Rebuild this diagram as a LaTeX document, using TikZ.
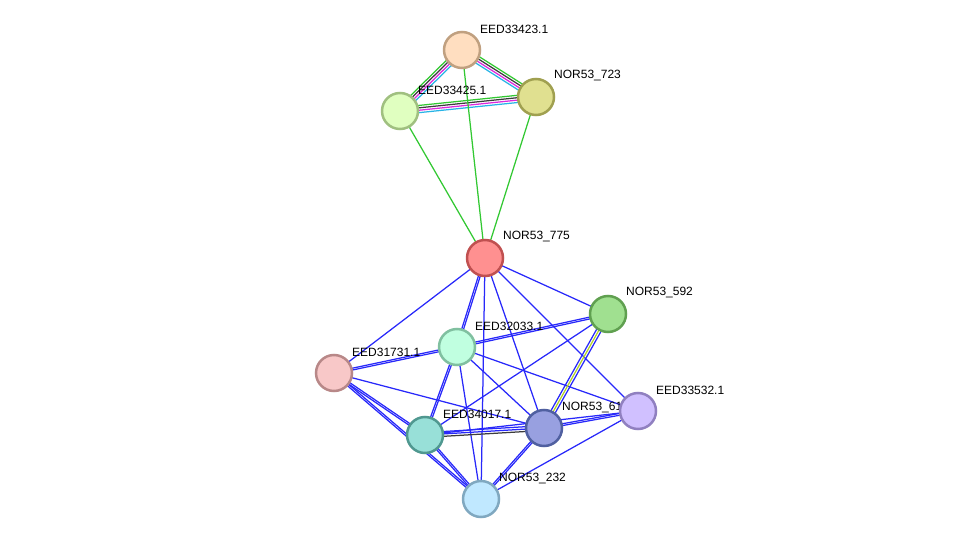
\documentclass[tikz,border=0pt]{standalone}
\usepackage{fontspec}
\setmainfont{Liberation Sans}
\usetikzlibrary{calc}
\pgfdeclarelayer{edges}
\pgfdeclarelayer{labels}
\pgfsetlayers{edges,labels,main}
\definecolor{eblue}{RGB}{40,40,250}
\definecolor{egreen}{RGB}{50,200,50}
\definecolor{emag}{RGB}{220,40,220}
\definecolor{ecyan}{RGB}{40,180,230}
\definecolor{eblack}{RGB}{60,60,60}
\definecolor{eolive}{RGB}{180,210,40}
\tikzset{
  prot/.style={circle, minimum size=36pt, inner sep=0pt, line width=2.5pt},
  plabel/.style={anchor=west, font=\fontsize{12}{14}\selectfont, inner sep=0pt},
  edge/.style={line width=1.25pt},
}
% parallel line: #1 start, #2 end, #3 offset, #4 colour
\newcommand{\paraedge}[4]{\draw[edge,#4] ($(#1.center)!#3!90:(#2.center)$) -- ($(#2.center)!#3!-90:(#1.center)$);}
\begin{document}
\begin{tikzpicture}[x=1pt,y=-1pt]
\useasboundingbox (0,0) rectangle (976,545);
% nodes
\node[prot, fill={rgb,255:red,255;green,222;blue,192}, draw={rgb,255:red,192;green,160;blue,128}] (A) at (462,50) {};
\node[prot, fill={rgb,255:red,224;green,255;blue,192}, draw={rgb,255:red,160;green,192;blue,128}] (B) at (400,111) {};
\node[prot, fill={rgb,255:red,224;green,224;blue,144}, draw={rgb,255:red,160;green,160;blue,80}] (C) at (536,97) {};
\node[prot, fill={rgb,255:red,255;green,144;blue,144}, draw={rgb,255:red,192;green,80;blue,80}] (D) at (485,258) {};
\node[prot, fill={rgb,255:red,160;green,224;blue,144}, draw={rgb,255:red,96;green,160;blue,80}] (E) at (608,314) {};
\node[prot, fill={rgb,255:red,192;green,255;blue,224}, draw={rgb,255:red,128;green,192;blue,160}] (F) at (457,347) {};
\node[prot, fill={rgb,255:red,248;green,200;blue,200}, draw={rgb,255:red,184;green,136;blue,136}] (G) at (334,373) {};
\node[prot, fill={rgb,255:red,208;green,192;blue,255}, draw={rgb,255:red,144;green,128;blue,192}] (H) at (638,411) {};
\node[prot, fill={rgb,255:red,152;green,224;blue,216}, draw={rgb,255:red,80;green,152;blue,144}] (I) at (425,435) {};
\node[prot, fill={rgb,255:red,152;green,160;blue,224}, draw={rgb,255:red,80;green,96;blue,160}] (J) at (544,428) {};
\node[prot, fill={rgb,255:red,192;green,232;blue,255}, draw={rgb,255:red,128;green,168;blue,192}] (K) at (481,499) {};
% labels
\begin{pgfonlayer}{labels}
\node[plabel] (lA) at ($(A)+(18,-21)$) {EED33423.1};
\node[plabel] (lB) at ($(B)+(18,-21)$) {EED33425.1};
\node[plabel] (lC) at ($(C)+(18,-21)$) {NOR53\_723};
\node[plabel] (lD) at ($(D)+(18,-21)$) {NOR53\_775};
\node[plabel] (lE) at ($(E)+(18,-21)$) {NOR53\_592};
\node[plabel] (lF) at ($(F)+(18,-21)$) {EED32033.1};
\node[plabel] (lG) at ($(G)+(18,-21)$) {EED31731.1};
\node[plabel] (lH) at ($(H)+(18,-21)$) {EED33532.1};
\node[plabel] (lI) at ($(I)+(18,-21)$) {EED34017.1};
\node[plabel] (lJ) at ($(J)+(18,-21)$) {NOR53\_61};
\node[plabel] (lK) at ($(K)+(18,-21)$) {NOR53\_232};
\end{pgfonlayer}
% edges
\begin{pgfonlayer}{edges}
% top cluster: four-coloured edges
\paraedge{B}{C}{3.6pt}{egreen}
\paraedge{B}{C}{1.2pt}{eblack}
\paraedge{B}{C}{-1.2pt}{emag}
\paraedge{B}{C}{-3.6pt}{ecyan}
\paraedge{A}{C}{3.6pt}{egreen}
\paraedge{A}{C}{1.2pt}{eblack}
\paraedge{A}{C}{-1.2pt}{emag}
\paraedge{A}{C}{-3.6pt}{ecyan}
\paraedge{B}{A}{3.6pt}{egreen}
\paraedge{B}{A}{1.2pt}{eblack}
\paraedge{B}{A}{-1.2pt}{emag}
\paraedge{B}{A}{-3.6pt}{ecyan}
\draw[edge,egreen] (A.center) -- (D.center);
\draw[edge,egreen] (B.center) -- (D.center);
\draw[edge,egreen] (C.center) -- (D.center);
% blue single edges
\foreach \a/\b in {D/G, D/K, D/J, D/E, D/H, F/J, F/H, F/K, G/J, E/I, H/K, I/H}
  \draw[edge,eblue] (\a.center) -- (\b.center);
% blue double edges
\foreach \a/\b in {D/F, F/I, F/E, F/G, G/I, G/K, H/J, J/K, K/I} {
  \paraedge{\a}{\b}{0.9pt}{eblue}
  \paraedge{\a}{\b}{-0.9pt}{eblue}
}
% NOR53_592 -- NOR53_61
\paraedge{E}{J}{2.4pt}{eblue}
\paraedge{E}{J}{0pt}{eolive}
\paraedge{E}{J}{-2.4pt}{eblue}
% NOR53_61 -- EED34017.1
\paraedge{J}{I}{-2.4pt}{eblue}
\paraedge{J}{I}{0pt}{eblue}
\paraedge{J}{I}{2.4pt}{eblack}
\end{pgfonlayer}
\end{tikzpicture}
\end{document}
